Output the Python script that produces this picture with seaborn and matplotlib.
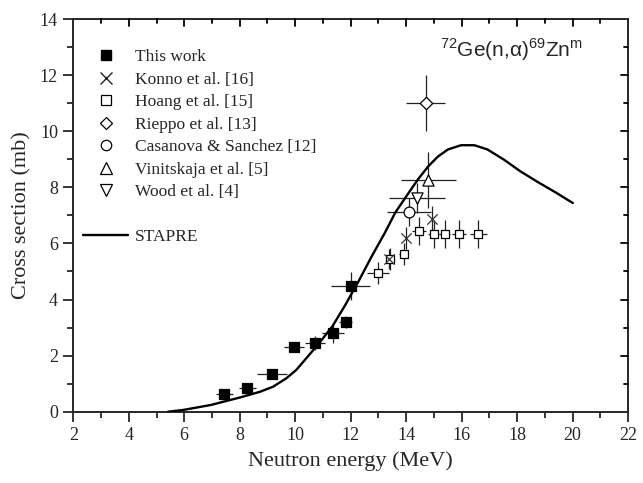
import matplotlib
matplotlib.use("Agg")
import matplotlib.pyplot as plt
from matplotlib.lines import Line2D
from matplotlib.ticker import MultipleLocator
import seaborn as sns
import pandas as pd

# ---- data ----
tw_x = [7.45, 8.28, 9.17, 9.97, 10.72, 11.36, 11.82, 12.0]
tw_y = [0.62, 0.84, 1.35, 2.29, 2.46, 2.80, 3.20, 4.48]
tw_xerr = [0.3, 0.3, 0.55, 0.36, 0.36, 0.4, 0.24, 0.7]
tw_yerr = [0.1, 0.12, 0.1, 0.12, 0.25, 0.35, 0.2, 0.5]

konno_x = [13.4, 14.0, 14.92]
konno_y = [5.45, 6.2, 6.88]
konno_yerr = [0.35, 0.4, 0.45]

hoang_x = [13.0, 13.42, 13.91, 14.45, 15.0, 15.4, 15.9, 16.6]
hoang_y = [4.94, 5.44, 5.63, 6.45, 6.35, 6.35, 6.35, 6.35]
hoang_xerr = [0.4, 0.15, 0.15, 0.25, 0.2, 0.2, 0.25, 0.3]
hoang_yerr = [0.4, 0.4, 0.4, 0.5, 0.5, 0.5, 0.5, 0.5]

rieppo_x = [14.71]
rieppo_y = [11.0]
rieppo_xerr = [0.7]
rieppo_yerr = [1.0]

casanova_x = [14.1]
casanova_y = [7.12]
casanova_xerr = [0.8]
casanova_yerr = [0.5]

vinit_x = [14.8]
vinit_y = [8.27]
vinit_xerr = [1.0]
vinit_yerr = [1.0]

wood_x = [14.39]
wood_y = [7.62]
wood_xerr = [1.0]
wood_yerr = [0.55]

stapre_x = [5.42, 5.95, 6.96, 8.02, 8.73, 9.2, 9.68, 10.04, 10.5, 10.86, 11.34, 11.81,
            12.28, 12.76, 13.23, 13.61, 14.09, 14.44, 14.8, 15.15, 15.51, 15.98, 16.46,
            16.93, 17.52, 18.12, 18.71, 19.42, 20.01]
stapre_y = [0.0, 0.06, 0.24, 0.51, 0.71, 0.89, 1.19, 1.49, 2.02, 2.44, 3.04, 3.81,
            4.64, 5.54, 6.37, 7.1, 7.8, 8.3, 8.75, 9.1, 9.35, 9.5, 9.5,
            9.35, 8.99, 8.57, 8.21, 7.8, 7.44]

xticks = [2, 4, 6, 8, 10, 12, 14, 16, 18, 20, 22]
yticks = [0, 2, 4, 6, 8, 10, 12, 14]

sns.set_style("ticks")
plt.rcParams['font.family'] = ['Liberation Serif', 'DejaVu Serif']
plt.rcParams['mathtext.fontset'] = 'custom'
plt.rcParams['mathtext.rm'] = 'Liberation Sans'

W, H = 643, 483
L, R, B, T = 73.3, 628.0, 411.7, 19.0
fig = plt.figure(figsize=(W / 100, H / 100), dpi=100)
ax = fig.add_axes([L / W, 1 - B / H, (R - L) / W, (B - T) / H])

ebkw = dict(fmt='none', ecolor='#222222', elinewidth=0.9, capsize=0, zorder=2)

def series(x, y, marker, face, xerr=None, yerr=None, size=50, lw=0.9):
    ax.errorbar(x, y, xerr=xerr, yerr=yerr, **ebkw)
    df = pd.DataFrame({'x': x, 'y': y})
    sns.scatterplot(data=df, x='x', y='y', ax=ax, marker=marker, s=size,
                    facecolor=face, edgecolor='black', linewidth=lw, zorder=3)

stapre = pd.DataFrame({'x': stapre_x, 'y': stapre_y})
sns.lineplot(data=stapre, x='x', y='y', ax=ax, color='black', linewidth=1.7, zorder=4)

series(hoang_x, hoang_y, 's', 'white', hoang_xerr, hoang_yerr, size=40)
series(tw_x, tw_y, 's', 'black', tw_xerr, tw_yerr, size=52)
ax.errorbar(konno_x, konno_y, yerr=konno_yerr, **ebkw)
df_k = pd.DataFrame({'x': konno_x, 'y': konno_y})
sns.scatterplot(data=df_k, x='x', y='y', ax=ax, marker='x', s=55, color='#333333',
                linewidth=0.9, zorder=3)
series(rieppo_x, rieppo_y, 'D', 'white', rieppo_xerr, rieppo_yerr, size=40)
series(casanova_x, casanova_y, 'o', 'white', casanova_xerr, casanova_yerr, size=60)
series(vinit_x, vinit_y, '^', 'white', vinit_xerr, vinit_yerr, size=65)
series(wood_x, wood_y, 'v', 'white', wood_xerr, wood_yerr, size=65)

ax.set_xlim(2, 22)
ax.set_ylim(0, 14)
ax.set_xticks(xticks)
ax.set_yticks(yticks)
ax.xaxis.set_minor_locator(MultipleLocator(1))
ax.yaxis.set_minor_locator(MultipleLocator(1))
ax.tick_params(which='both', direction='out', width=1.3, labelsize=13, top=False,
               right=False, pad=4)
ax.tick_params(which='major', length=7)
ax.tick_params(which='minor', length=4)
for s in ax.spines.values():
    s.set_linewidth(1.4)
    s.set_visible(True)

# inward ticks on top and right
pxx = (R - L) / 20.0
pxy = (B - T) / 14.0
for x in range(3, 22):
    ln = 7 if x % 2 == 0 else 4
    ax.plot([x, x], [14, 14 - ln / pxy], color='black', lw=1.3, clip_on=False, zorder=5)
for y in range(1, 14):
    ln = 7 if y % 2 == 0 else 4
    ax.plot([22, 22 - ln / pxx], [y, y], color='black', lw=1.3, clip_on=False, zorder=5)

ax.set_xlabel('Neutron energy (MeV)', fontsize=16, labelpad=5)
ax.set_ylabel('Cross section (mb)', fontsize=16, labelpad=6)

ax.text(17.8, 12.66, r'$^{72}$Ge(n,α)$^{69}$Zn$^{\rm m}$', fontsize=15,
        family=['Liberation Sans', 'DejaVu Sans'], ha='center', va='baseline')

handles = [
    Line2D([], [], ls='none', marker='s', ms=6.5, mfc='black', mec='black'),
    Line2D([], [], ls='none', marker='x', ms=8.5, mec='#222222', mew=1.0),
    Line2D([], [], ls='none', marker='s', ms=6.5, mfc='white', mec='black', mew=0.9),
    Line2D([], [], ls='none', marker='D', ms=6.5, mfc='white', mec='black', mew=0.9),
    Line2D([], [], ls='none', marker='o', ms=7.5, mfc='white', mec='black', mew=0.9),
    Line2D([], [], ls='none', marker='^', ms=8, mfc='white', mec='black', mew=0.9),
    Line2D([], [], ls='none', marker='v', ms=8, mfc='white', mec='black', mew=0.9),
    Line2D([], [], ls='none'),
    Line2D([], [], color='black', lw=1.7),
]
labels = ['This work', 'Konno et al. [16]', 'Hoang et al. [15]', 'Rieppo et al. [13]',
          'Casanova & Sanchez [12]', 'Vinitskaja et al. [5]', 'Wood et al. [4]', '', 'STAPRE']
ax.legend(handles, labels, loc='upper left', bbox_to_anchor=(0.005, 0.941), frameon=False,
          fontsize=12.5, handlelength=2.6, handletextpad=0.4, labelspacing=0.365,
          borderaxespad=0.0)

fig.savefig('out.png', dpi=100)
